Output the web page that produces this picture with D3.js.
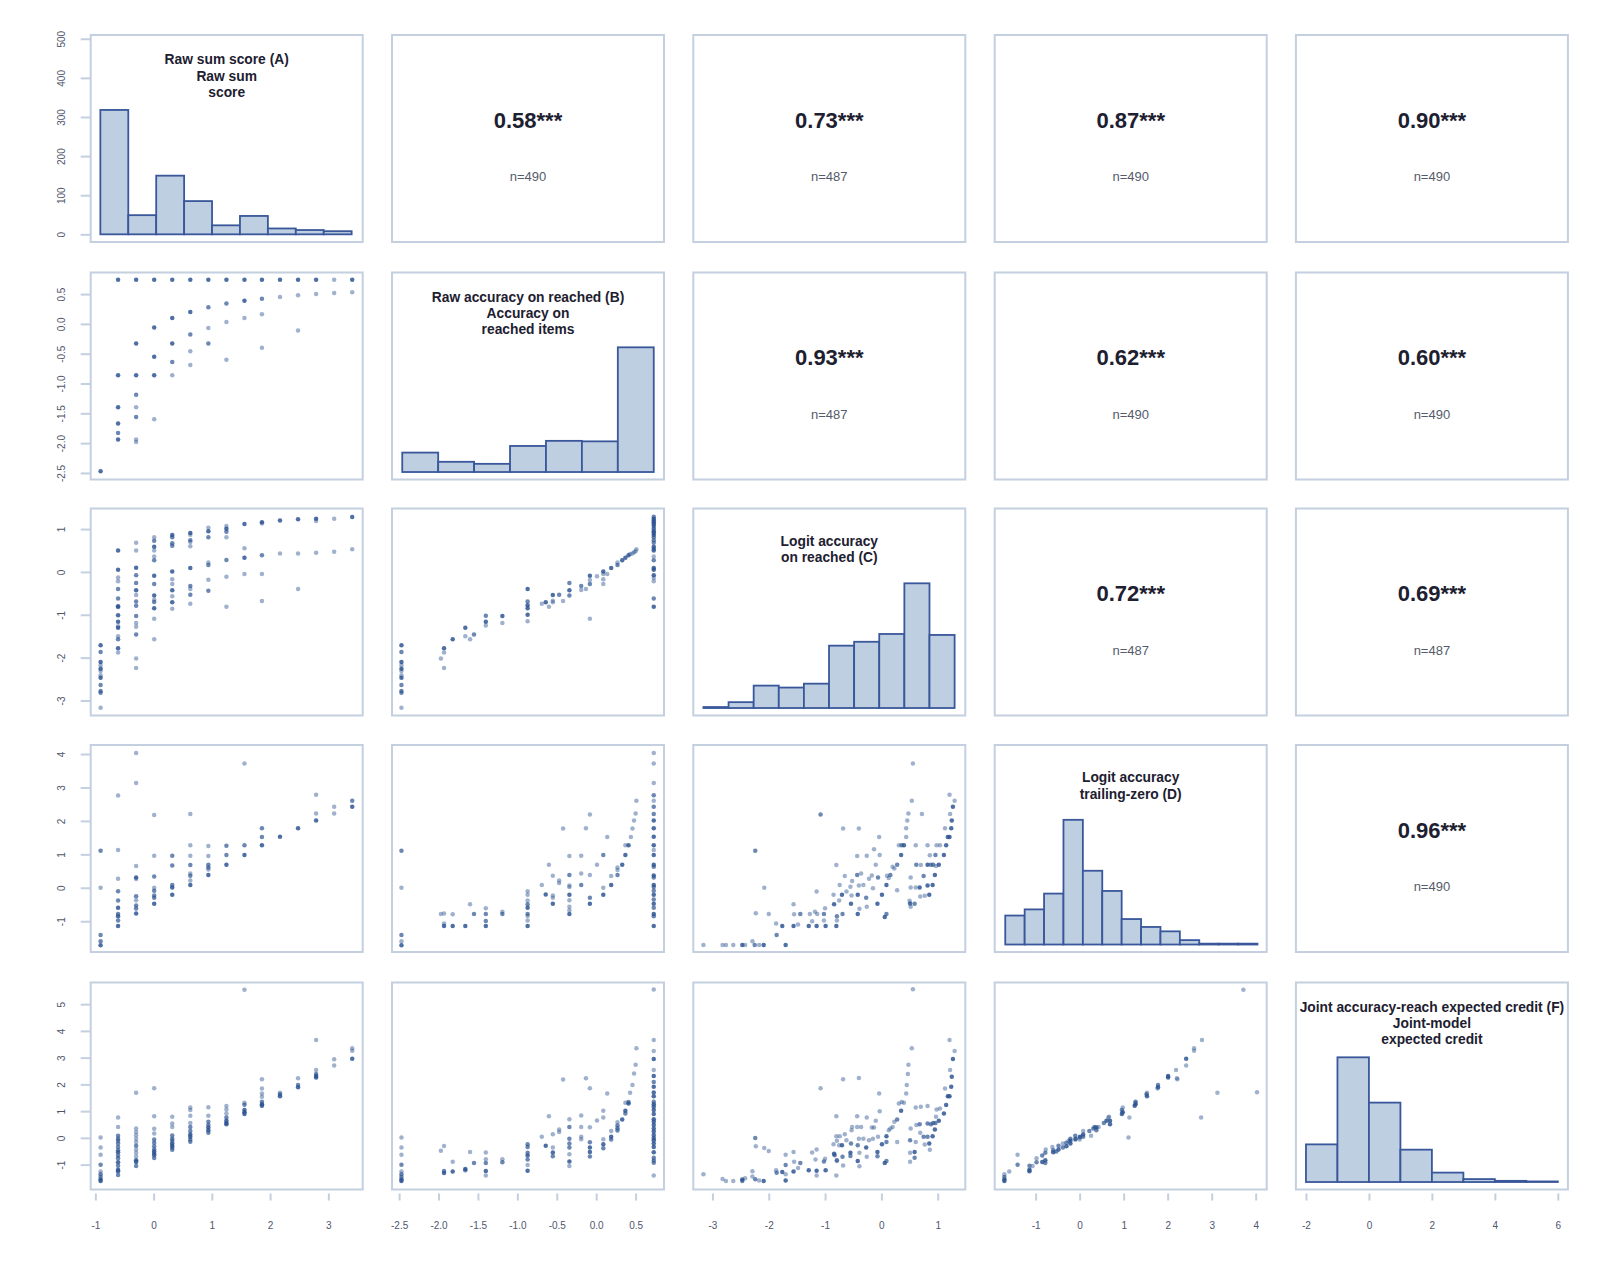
<!DOCTYPE html>
<html>
<head>
<meta charset="utf-8">
<script src="https://cdn.jsdelivr.net/npm/d3@7"></script>
<style>
  body { margin: 0; background: #fff; }
  svg text { font-family: "Liberation Sans", Arial, Helvetica, sans-serif; }
</style>
</head>
<body>
<div id="chart"></div>
<script>
// ---- data ----
const diagTitles = [
  ["Raw sum score (A)", "Raw sum", "score"],
  ["Raw accuracy on reached (B)", "Accuracy on", "reached items"],
  ["Logit accuracy", "on reached (C)"],
  ["Logit accuracy", "trailing-zero (D)"],
  ["Joint accuracy-reach expected credit (F)", "Joint-model", "expected credit"]
];

// upper cells: row, col, correlation label, n
const corrCells = [
  [0, 1, "0.58***", 490], [0, 2, "0.73***", 487], [0, 3, "0.87***", 490], [0, 4, "0.90***", 490],
  [1, 2, "0.93***", 487], [1, 3, "0.62***", 490], [1, 4, "0.60***", 490],
  [2, 3, "0.72***", 487], [2, 4, "0.69***", 487],
  [3, 4, "0.96***", 490]
];

const xDomains = [[-1.08, 3.59], [-2.59, 0.86], [-3.34, 1.49], [-1.93, 4.25], [-2.32, 6.32]];
const yDomains = [[-19.6, 509.6], [-2.61, 0.862], [-3.35, 1.48], [-1.92, 4.27], [-1.93, 5.81]];
const xTicks = [[-1, 0, 1, 2, 3], [-2.5, -2, -1.5, -1, -0.5, 0, 0.5], [-3, -2, -1, 0, 1], [-1, 0, 1, 2, 3, 4], [-2, 0, 2, 4, 6]];
const yTicks = [[0, 100, 200, 300, 400, 500], [-2.5, -2, -1.5, -1, -0.5, 0, 0.5], [-3, -2, -1, 0, 1], [-1, 0, 1, 2, 3, 4], [-1, 0, 1, 2, 3, 4, 5]];

// histograms on the diagonal: value range and bin counts
const histRanges = [[-0.914, 3.40], [-2.46, 0.73], [-3.16, 1.30], [-1.69, 4.04], [-2, 6]];
const histCounts = [
  [318, 49, 150, 85, 23, 47, 15, 11, 8],
  [38, 20, 16, 51, 61, 60, 244],
  [1, 6, 23, 21, 25, 64, 68, 76, 128, 75],
  [33, 40, 58, 142, 84, 61, 29, 20, 15, 5, 1, 1, 1],
  [64, 212, 135, 55, 16, 5, 2, 1]
];

// standardized raw sum score levels (A)
const scoreLevels = [-0.91, -0.61, -0.30, 0.01, 0.32, 0.63, 0.94, 1.25, 1.56, 1.86, 2.17, 2.48, 2.79, 3.10, 3.41];

// scatter points: [x, y, overlapping count]; column A uses the score level index
const bOnScore = [
  [0,-2.47,3],
  [1,0.74,3],[1,-0.86,3],[1,-1.40,3],[1,-1.67,3],[1,-1.83,2],[1,-1.94,3],
  [2,0.74,3],[2,-0.33,3],[2,-0.86,3],[2,-1.19,2],[2,-1.40,1],[2,-1.56,2],[2,-1.94,1],[2,-1.98,1],
  [3,0.74,3],[3,-0.06,3],[3,-0.55,3],[3,-0.86,3],[3,-1.60,1],
  [4,0.74,3],[4,0.10,3],[4,-0.33,3],[4,-0.64,2],[4,-0.86,1],
  [5,0.74,3],[5,0.20,3],[5,-0.18,2],[5,-0.46,1],[5,-0.69,1],
  [6,0.74,3],[6,0.28,2],[6,-0.07,1],[6,-0.33,2],
  [7,0.74,3],[7,0.34,2],[7,0.03,1],[7,-0.60,1],
  [8,0.74,3],[8,0.39,3],[8,0.10,1],
  [9,0.74,3],[9,0.42,2],[9,0.16,1],[9,-0.40,1],
  [10,0.74,3],[10,0.45,1],
  [11,0.74,3],[11,0.48,1],[11,-0.11,1],
  [12,0.74,3],[12,0.50,1],
  [13,0.74,1],[13,0.52,1],
  [14,0.74,3],[14,0.53,1]
];

const cOnScore = [
  [0,-1.71,3],[0,-1.87,2],[0,-2.10,3],[0,-2.18,1],[0,-2.26,3],[0,-2.31,1],[0,-2.41,1],[0,-2.47,3],[0,-2.64,2],[0,-2.78,2],[0,-2.82,2],[0,-3.17,1],
  [1,0.50,3],[1,0.05,3],[1,-0.13,1],[1,-0.22,1],[1,-0.40,2],[1,-0.62,2],[1,-0.80,3],[1,-0.82,2],[1,-1.01,3],[1,-1.16,3],[1,-1.27,1],[1,-1.30,3],[1,-1.50,1],[1,-1.57,2],[1,-1.78,3],[1,-1.88,1],
  [2,0.68,1],[2,0.50,1],[2,0.10,3],[2,-0.08,2],[2,-0.26,2],[2,-0.43,3],[2,-0.54,1],[2,-0.69,2],[2,-0.79,2],[2,-1.03,2],[2,-1.19,1],[2,-1.28,1],[2,-1.46,2],[2,-2.02,1],[2,-2.24,1],
  [3,0.81,1],[3,0.73,2],[3,0.59,3],[3,0.50,1],[3,0.36,1],[3,0.27,2],[3,-0.09,3],[3,-0.28,2],[3,-0.55,3],[3,-0.65,1],[3,-0.70,2],[3,-0.85,3],[3,-1.09,1],[3,-1.57,1],
  [4,0.86,3],[4,0.81,2],[4,0.67,2],[4,0.61,2],[4,0.01,3],[4,-0.17,1],[4,-0.28,1],[4,-0.43,3],[4,-0.57,1],[4,-0.71,3],[4,-0.86,1],
  [5,0.91,3],[5,0.87,1],[5,0.74,2],[5,0.70,1],[5,0.60,1],[5,0.09,3],[5,-0.33,2],[5,-0.40,1],[5,-0.53,2],[5,-0.74,1],
  [6,1.03,1],[6,0.95,3],[6,0.81,2],[6,0.22,1],[6,0.16,2],[6,-0.18,1],[6,-0.44,2],
  [7,1.07,1],[7,1.01,3],[7,0.94,2],[7,0.81,1],[7,0.28,2],[7,-0.11,1],[7,-0.81,1],
  [8,1.12,3],[8,0.55,1],[8,0.33,3],[8,-0.05,1],
  [9,1.16,3],[9,1.13,1],[9,0.39,2],[9,-0.05,1],[9,-0.68,1],
  [10,1.20,3],[10,0.43,1],
  [11,1.23,3],[11,0.43,1],[11,-0.40,1],
  [12,1.24,3],[12,1.19,1],[12,0.45,1],
  [13,1.24,1],[13,0.47,1],
  [14,1.28,3],[14,0.53,1]
];

const dOnScore = [
  [0,1.11,2],[0,0.0,1],[0,-1.41,2],[0,-1.60,2],[0,-1.72,3],
  [1,2.76,1],[1,1.13,1],[1,0.27,1],[1,-0.10,2],[1,-0.38,2],[1,-0.60,3],[1,-0.78,2],[1,-0.85,3],[1,-0.98,2],[1,-1.14,3],
  [2,4.03,1],[2,3.13,1],[2,0.65,1],[2,0.31,3],[2,0.26,1],[2,-0.25,2],[2,-0.37,1],[2,-0.53,2],[2,-0.62,2],[2,-0.77,3],
  [3,2.18,1],[3,0.96,1],[3,0.34,2],[3,0.0,1],[3,-0.09,2],[3,-0.23,2],[3,-0.30,2],[3,-0.48,3],
  [4,0.96,2],[4,0.67,2],[4,0.08,2],[4,0.01,3],[4,-0.21,3],
  [5,2.21,1],[5,1.27,1],[5,0.96,1],[5,0.68,2],[5,0.43,1],[5,0.36,2],[5,0.22,1],[5,0.08,3],
  [6,1.25,1],[6,0.95,1],[6,0.69,2],[6,0.61,2],[6,0.55,1],[6,0.38,3],
  [7,1.26,2],[7,0.98,2],[7,0.69,3],
  [8,3.72,1],[8,1.27,2],[8,0.98,3],
  [9,1.78,2],[9,1.52,2],[9,1.27,3],
  [10,1.53,3],[11,1.78,3],
  [12,2.78,1],[12,2.22,1],[12,2.01,3],
  [13,2.42,1],[13,2.22,1],
  [14,2.60,2],[14,2.42,3]
];

const fOnScore = [
  [0,0.01,1],[0,-0.36,1],[0,-0.63,1],[0,-1.0,2],[0,-1.26,1],[0,-1.36,2],[0,-1.46,2],[0,-1.56,3],[0,-1.61,3],
  [1,0.76,1],[1,0.41,1],[1,0.08,2],[1,-0.03,2],[1,-0.11,2],[1,-0.21,2],[1,-0.34,2],[1,-0.46,2],[1,-0.54,3],[1,-0.66,2],[1,-0.76,2],[1,-0.91,3],[1,-1.04,2],[1,-1.19,3],[1,-1.25,3],[1,-1.39,2],
  [2,1.69,1],[2,0.35,1],[2,0.22,1],[2,0.10,1],[2,-0.03,1],[2,-0.15,1],[2,-0.29,2],[2,-0.43,1],[2,-0.56,1],[2,-0.70,1],[2,-0.84,3],[2,-0.90,3],[2,-1.05,2],
  [3,1.86,1],[3,0.81,1],[3,0.34,1],[3,0.16,1],[3,-0.06,2],[3,-0.18,2],[3,-0.31,2],[3,-0.43,2],[3,-0.51,3],[3,-0.59,3],[3,-0.65,2],[3,-0.75,2],
  [4,0.79,1],[4,0.54,1],[4,0.41,1],[4,0.09,2],[4,-0.03,2],[4,-0.11,2],[4,-0.21,3],[4,-0.29,3],[4,-0.36,2],[4,-0.44,2],
  [5,1.14,1],[5,1.04,1],[5,0.83,1],[5,0.56,1],[5,0.41,2],[5,0.26,2],[5,0.13,3],[5,0.04,3],[5,-0.06,2],[5,-0.14,2],
  [6,1.15,1],[6,0.83,1],[6,0.60,2],[6,0.48,2],[6,0.39,3],[6,0.29,3],[6,0.19,2],
  [7,1.19,1],[7,1.06,1],[7,0.91,1],[7,0.76,2],[7,0.64,3],[7,0.56,3],[7,0.51,3],
  [8,5.54,1],[8,1.31,1],[8,1.24,2],[8,1.04,3],[8,0.96,3],[8,0.89,3],
  [9,2.19,1],[9,1.85,1],[9,1.66,1],[9,1.54,1],[9,1.35,2],[9,1.26,3],[9,1.20,3],
  [10,1.69,1],[10,1.63,2],[10,1.56,3],
  [11,2.23,1],[11,1.98,2],[11,1.89,3],
  [12,3.66,1],[12,2.54,1],[12,2.39,2],[12,2.31,3],[12,2.26,3],
  [13,2.94,1],[13,2.71,1],
  [14,3.35,1],[14,3.26,1],[14,2.96,3]
];

const cOnAcc = [
  [-2.47,-1.71,3],[-2.47,-1.87,2],[-2.47,-2.10,3],[-2.47,-2.18,1],[-2.47,-2.26,3],[-2.47,-2.31,1],[-2.47,-2.41,1],[-2.47,-2.47,3],[-2.47,-2.64,2],[-2.47,-2.78,2],[-2.47,-2.82,2],[-2.47,-3.17,1],
  [-1.97,-2.02,1],[-1.93,-1.78,3],[-1.93,-1.88,1],[-1.93,-2.24,1],[-1.82,-1.57,3],[-1.66,-1.30,3],[-1.66,-1.50,1],[-1.60,-1.57,1],[-1.55,-1.46,2],
  [-1.40,-1.02,2],[-1.40,-1.16,3],[-1.40,-1.25,1],[-1.19,-1.03,3],[-1.19,-1.19,1],
  [-0.87,-0.40,3],[-0.87,-0.69,2],[-0.87,-0.78,3],[-0.87,-0.85,3],[-0.87,-1.00,3],[-0.87,-1.15,1],
  [-0.69,-0.74,1],[-0.64,-0.71,3],[-0.60,-0.81,1],[-0.55,-0.54,3],[-0.55,-0.67,1],[-0.55,-0.71,1],[-0.47,-0.53,2],[-0.42,-0.68,1],
  [-0.34,-0.26,2],[-0.34,-0.43,3],[-0.34,-0.55,2],[-0.19,-0.33,2],[-0.19,-0.42,1],[-0.13,-0.40,1],
  [-0.08,-0.09,3],[-0.08,-0.19,1],[-0.08,-0.28,2],[-0.08,-1.09,1],[0.01,-0.10,1],
  [0.09,0.01,3],[0.09,-0.05,1],[0.09,-0.17,1],[0.09,-0.28,1],[0.14,-0.05,1],[0.19,0.09,3],[0.27,0.16,2],[0.27,0.22,1],[0.33,0.27,3],[0.37,0.33,3],[0.41,0.39,3],[0.43,0.42,1],[0.46,0.43,1],[0.48,0.46,1],[0.50,0.48,1],[0.51,0.53,1],
  [0.73,1.29,2],[0.73,1.24,3],[0.73,1.20,3],[0.73,1.16,3],[0.73,1.12,3],[0.73,1.07,3],[0.73,1.01,3],[0.73,0.95,3],[0.73,0.91,3],[0.73,0.86,3],[0.73,0.81,2],[0.73,0.74,2],[0.73,0.68,2],[0.73,0.59,3],[0.73,0.54,2],[0.73,0.50,3],[0.73,0.36,1],[0.73,0.27,2],[0.73,0.09,3],[0.73,0.05,3],[0.73,-0.08,3],[0.73,-0.14,1],[0.73,-0.22,1],[0.73,-0.62,2],[0.73,-0.81,3]
];

const dOnAcc = [
  [-2.47,1.11,2],[-2.47,0.0,1],[-2.47,-1.41,2],[-2.47,-1.60,1],[-2.47,-1.72,3],
  [-1.97,-0.78,1],[-1.93,-0.77,1],[-1.93,-1.07,1],[-1.93,-1.14,3],[-1.82,-0.79,1],[-1.82,-1.14,3],[-1.66,-1.14,3],[-1.60,-0.49,1],[-1.55,-0.78,2],
  [-1.40,-0.61,1],[-1.40,-0.78,2],[-1.40,-0.99,2],[-1.40,-1.14,3],[-1.19,-0.72,1],[-1.19,-0.78,2],
  [-0.87,-0.10,1],[-0.87,-0.21,1],[-0.87,-0.38,1],[-0.87,-0.49,2],[-0.87,-0.60,3],[-0.87,-0.78,2],[-0.87,-0.84,1],[-0.87,-0.98,1],[-0.87,-1.14,3],
  [-0.69,0.08,1],[-0.64,-0.20,3],[-0.60,0.69,1],[-0.55,0.36,1],[-0.55,-0.23,1],[-0.55,-0.30,1],[-0.55,-0.48,3],[-0.47,0.22,1],[-0.47,0.14,1],[-0.42,1.77,1],
  [-0.34,0.95,1],[-0.34,0.38,2],[-0.34,0.07,1],[-0.34,0.02,1],[-0.34,-0.21,3],[-0.34,-0.37,1],[-0.34,-0.57,1],[-0.34,-0.67,1],[-0.34,-0.78,3],
  [-0.19,0.96,1],[-0.19,0.43,1],[-0.19,0.08,2],[-0.13,1.78,1],
  [-0.08,2.19,1],[-0.08,0.38,1],[-0.08,-0.30,2],[-0.08,-0.48,3],[0.01,0.69,1],
  [0.09,0.98,2],[0.09,0.0,1],[0.09,-0.21,3],[0.14,1.52,1],[0.19,0.35,1],[0.19,0.08,3],
  [0.27,0.61,1],[0.27,0.53,1],[0.27,0.38,2],[0.33,0.69,3],[0.37,0.98,3],[0.37,1.27,1],[0.41,1.27,3],[0.44,1.52,1],[0.46,1.77,1],[0.48,2.01,1],[0.50,2.22,1],[0.51,2.60,1],
  [0.73,4.03,1],[0.73,3.72,1],[0.73,3.13,1],[0.73,2.77,2],[0.73,2.60,1],[0.73,2.42,2],[0.73,2.21,2],[0.73,2.01,3],[0.73,1.78,3],[0.73,1.53,3],[0.73,1.27,3],[0.73,1.13,1],[0.73,0.98,3],[0.73,0.69,3],[0.73,0.63,2],[0.73,0.37,3],[0.73,0.31,2],[0.73,0.08,3],[0.73,0.02,2],[0.73,-0.09,2],[0.73,-0.21,3],[0.73,-0.35,2],[0.73,-0.48,3],[0.73,-0.60,2],[0.73,-0.78,3],[0.73,-0.85,2],[0.73,-1.14,3]
];

const fOnAcc = [
  [-2.47,0.01,1],[-2.47,-0.36,1],[-2.47,-0.63,1],[-2.47,-1.0,2],[-2.47,-1.26,1],[-2.47,-1.36,2],[-2.47,-1.46,2],[-2.47,-1.56,3],[-2.47,-1.61,3],
  [-1.97,-0.48,1],[-1.93,-0.30,1],[-1.93,-1.24,2],[-1.93,-1.31,3],[-1.82,-0.89,1],[-1.82,-1.26,3],[-1.66,-1.16,3],[-1.66,-1.21,2],[-1.60,-0.53,1],[-1.55,-0.94,2],
  [-1.40,-0.55,1],[-1.40,-0.80,1],[-1.40,-0.94,2],[-1.40,-1.24,3],[-1.40,-1.41,1],[-1.19,-0.80,1],[-1.19,-0.91,2],
  [-0.87,-0.24,2],[-0.87,-0.34,2],[-0.87,-0.56,2],[-0.87,-0.66,3],[-0.87,-0.81,2],[-0.87,-1.01,1],[-0.87,-1.23,3],
  [-0.69,0.04,1],[-0.64,-0.29,3],[-0.60,0.81,1],[-0.55,0.14,1],[-0.55,-0.36,1],[-0.55,-0.55,3],[-0.55,-0.69,2],[-0.47,0.31,1],[-0.47,0.22,1],[-0.42,2.18,1],
  [-0.34,0.70,1],[-0.34,0.41,2],[-0.34,-0.03,2],[-0.34,-0.21,2],[-0.34,-0.36,2],[-0.34,-0.61,1],[-0.34,-0.88,3],[-0.34,-1.05,1],
  [-0.19,0.84,1],[-0.19,0.41,1],[-0.19,0.04,1],[-0.19,-0.05,1],[-0.13,2.23,1],
  [-0.08,1.86,1],[-0.08,0.40,1],[-0.08,-0.16,2],[-0.08,-0.36,3],[-0.08,-0.53,3],[-0.08,-0.70,2],[0.01,0.65,1],
  [0.09,1.01,1],[0.09,0.76,1],[0.09,-0.05,1],[0.09,-0.24,3],[0.09,-0.39,2],[0.14,1.66,1],[0.19,0.26,1],[0.19,0.04,3],[0.19,-0.06,2],
  [0.27,0.58,1],[0.27,0.46,2],[0.27,0.36,2],[0.27,0.28,2],[0.33,0.69,3],[0.37,1.31,1],[0.37,1.01,3],[0.37,0.91,2],[0.41,1.34,2],[0.41,1.29,3],[0.43,1.69,1],[0.46,1.98,1],[0.48,2.41,1],[0.50,2.73,1],[0.51,3.35,1],
  [0.73,5.55,1],[0.73,3.66,1],[0.73,3.25,1],[0.73,2.95,3],[0.73,2.54,1],[0.73,2.31,3],[0.73,2.09,2],[0.73,1.91,3],[0.73,1.70,3],[0.73,1.56,3],[0.73,1.35,2],[0.73,1.26,3],[0.73,1.16,3],[0.73,1.04,3],[0.73,0.89,3],[0.73,0.70,3],[0.73,0.60,3],[0.73,0.48,3],[0.73,0.35,3],[0.73,0.24,3],[0.73,0.11,3],[0.73,0.0,3],[0.73,-0.09,3],[0.73,-0.21,3],[0.73,-0.34,3],[0.73,-0.54,3],[0.73,-0.74,2],[0.73,-0.85,2],[0.73,-0.93,2],[0.73,-1.41,1]
];

const dOnLogit = [
  [-3.16,-1.71,1],[-2.82,-1.71,1],[-2.76,-1.71,1],[-2.63,-1.71,1],[-2.47,-1.71,3],[-2.42,-1.71,1],[-2.29,-1.60,1],[-2.25,-1.71,2],[-2.17,-1.71,1],[-2.09,-1.71,3],[-1.70,-1.71,3],
  [-2.24,1.11,2],[-2.08,0.0,1],[-2.23,-0.76,1],[-2.0,-0.78,1],[-1.87,-1.07,1],[-1.86,-1.41,2],[-1.76,-1.14,3],
  [-1.56,-0.49,1],[-1.55,-0.79,1],[-1.56,-1.14,3],[-1.48,-1.10,1],[-1.44,-0.78,2],
  [-1.29,-1.14,3],[-1.27,-0.78,1],[-1.23,-1.0,1],[-1.18,-0.72,1],[-1.15,-0.11,1],[-1.14,-0.78,1],[-1.15,-1.14,3],[-1.08,2.19,2],
  [-1.02,-0.98,1],[-1.02,-0.78,2],[-1.0,-0.61,1],[-0.99,-1.14,3],
  [-0.85,-0.21,1],[-0.84,-0.49,3],[-0.80,0.68,1],[-0.79,-0.85,2],[-0.79,-0.98,1],[-0.80,-1.14,3],[-0.75,-0.38,1],[-0.74,0.08,1],
  [-0.70,-0.21,3],[-0.69,-0.78,2],[-0.68,1.77,1],[-0.65,0.35,1],[-0.62,-0.11,1],
  [-0.55,0.03,1],[-0.54,-0.48,3],[-0.53,-0.23,1],[-0.52,0.20,1],
  [-0.43,0.95,1],[-0.43,0.38,2],[-0.42,-0.21,3],[-0.42,-0.78,3],[-0.40,0.07,1],[-0.40,1.77,1],[-0.39,-0.63,1],[-0.36,0.43,1],
  [-0.32,0.08,1],[-0.27,-0.30,2],[-0.26,0.96,1],[-0.26,-0.57,1],[-0.22,0.27,1],
  [-0.17,0.37,1],[-0.15,-0.01,1],[-0.13,1.15,1],[-0.10,0.69,1],[-0.07,-0.48,3],[-0.06,0.31,2],[-0.04,1.52,1],[-0.03,0.98,1],
  [0.01,-0.21,3],[0.06,-0.87,3],[0.09,-0.78,2],[0.09,0.08,3],[0.10,0.36,1],[0.13,0.29,1],[0.16,0.38,2],[0.20,0.63,1],[0.23,0.58,1],
  [0.28,0.69,2],[0.28,-0.07,1],[0.31,1.27,1],[0.35,0.98,3],[0.36,1.27,2],[0.40,1.27,3],
  [0.44,1.52,1],[0.44,1.78,1],[0.46,2.01,1],[0.48,2.22,1],[0.50,-0.39,1],[0.51,-0.47,3],[0.52,-0.57,1],[0.52,0.31,1],[0.52,0.01,1],[0.54,2.60,1],[0.56,3.72,1],[0.59,-0.48,2],[0.61,0.01,1],[0.62,0.69,2],[0.61,1.27,1],
  [0.68,0.01,3],[0.69,-0.26,1],[0.70,0.68,1],[0.72,2.21,1],[0.75,0.35,2],[0.77,-0.24,1],[0.82,1.27,1],[0.82,0.69,3],[0.82,0.07,3],[0.85,-0.21,3],[0.86,0.97,1],[0.88,0.69,2],[0.91,0.08,3],[0.92,0.69,2],[0.95,0.38,3],[0.96,0.98,2],[0.97,0.65,1],[0.98,1.27,1],[1.02,0.69,3],[1.04,1.27,1],
  [1.11,0.98,3],[1.13,1.78,1],[1.15,1.27,3],[1.18,1.52,3],[1.21,2.78,1],[1.21,1.52,3],[1.22,2.21,1],[1.24,1.78,3],[1.25,2.01,3],[1.27,2.42,3],[1.30,2.60,1]
];

const fOnLogit = [
  [-3.16,-1.36,1],[-2.82,-1.54,1],[-2.76,-1.61,1],[-2.63,-1.61,1],[-2.47,-1.56,3],[-2.47,-1.61,2],[-2.42,-1.51,1],[-2.29,-1.25,1],[-2.29,-1.44,1],[-2.24,0.0,2],[-2.24,-1.55,2],[-2.23,-0.31,1],[-2.17,-1.59,1],[-2.09,-1.61,3],[-2.08,-0.38,1],[-2.0,-0.49,1],
  [-1.87,-1.21,1],[-1.86,-1.30,2],[-1.76,-1.28,3],[-1.70,-0.63,1],[-1.70,-1.01,2],[-1.70,-1.59,3],[-1.70,-1.36,1],
  [-1.56,-0.53,1],[-1.56,-1.26,3],[-1.55,-0.89,1],[-1.48,-1.13,1],[-1.44,-0.94,2],
  [-1.29,-1.21,3],[-1.23,-0.55,1],[-1.17,-0.81,1],[-1.15,-0.43,1],[-1.15,-1.23,3],[-1.15,-1.41,1],[-1.08,1.86,1],
  [-1.02,-0.88,2],[-1.0,-0.78,1],[-0.99,-1.21,3],
  [-0.85,-0.24,1],[-0.84,-0.59,3],[-0.83,-0.65,2],[-0.80,0.81,1],[-0.80,0.06,1],[-0.79,-0.11,1],[-0.79,-0.86,1],[-0.80,-1.41,1],[-0.79,-0.84,2],[-0.75,-0.28,1],[-0.74,0.06,1],
  [-0.70,-0.28,3],[-0.69,-0.71,2],[-0.68,2.19,1],[-0.65,0.14,1],[-0.62,-0.09,1],[-0.68,-1.03,1],
  [-0.55,-0.56,3],[-0.54,-0.21,2],[-0.53,0.29,1],[-0.52,0.41,1],[-0.55,-0.68,2],
  [-0.43,0.41,1],[-0.43,0.81,1],[-0.42,-0.28,2],[-0.42,-0.86,3],[-0.40,-0.03,1],[-0.40,2.24,1],[-0.39,-0.56,1],[-0.36,0.41,1],[-0.39,-1.06,1],
  [-0.32,-0.03,1],[-0.27,-0.36,3],[-0.26,0.76,1],[-0.26,-0.71,1],[-0.22,-0.09,1],
  [-0.17,0.39,1],[-0.15,-0.03,1],[-0.13,0.39,1],[-0.10,0.64,1],[-0.07,-0.53,3],[-0.06,0.04,1],[-0.04,1.66,1],[-0.03,1.0,1],[-0.07,-0.69,2],
  [0.01,-0.24,3],[0.06,-0.94,3],[0.09,0.06,3],[0.09,-0.86,2],[0.09,-0.15,2],[0.13,0.29,1],[0.16,0.35,1],[0.20,0.41,1],[0.23,0.60,1],
  [0.28,0.69,2],[0.28,-0.15,1],[0.31,1.29,1],[0.35,1.01,3],[0.36,1.34,1],[0.40,1.31,1],
  [0.44,1.66,1],[0.45,1.98,1],[0.47,2.39,1],[0.48,2.73,1],[0.51,-0.09,2],[0.51,-0.56,1],[0.51,-0.89,1],[0.52,0.35,1],[0.54,3.35,1],[0.56,5.56,1],[0.59,-0.53,3],[0.59,-0.74,2],[0.61,-0.15,1],[0.62,0.48,1],[0.61,1.14,1],
  [0.68,0.51,2],[0.69,0.19,1],[0.70,1.16,1],[0.75,0.04,2],[0.77,-0.25,1],[0.82,1.19,1],[0.82,0.54,2],[0.82,0.04,2],[0.85,-0.21,3],[0.86,-0.44,1],[0.88,0.51,2],[0.91,0.06,3],[0.92,0.56,2],[0.95,0.31,3],[0.96,0.56,2],[0.97,0.79,1],[0.98,1.06,1],[1.02,0.64,3],[1.04,1.10,1],
  [1.11,0.91,3],[1.13,1.85,1],[1.15,1.23,3],[1.18,1.56,3],[1.21,3.66,1],[1.21,1.56,3],[1.22,2.54,1],[1.24,1.91,3],[1.25,2.29,3],[1.27,2.95,3],[1.30,3.25,1]
];

const fOnTrail = [
  [-1.71,-1.61,3],[-1.71,-1.56,3],[-1.71,-1.46,2],[-1.71,-1.36,1],[-1.60,-1.26,1],[-1.41,-1.0,2],[-1.41,-0.63,1],
  [-1.14,-1.25,3],[-1.14,-1.19,3],[-1.14,-1.04,2],[-1.07,-1.05,1],[-0.98,-0.91,2],[-0.98,-0.76,1],[-0.85,-0.90,3],[-0.85,-0.66,2],[-0.78,-0.84,3],[-0.78,-0.56,2],[-0.78,-0.94,2],[-0.77,-0.43,1],
  [-0.60,-0.54,3],[-0.60,-0.46,2],[-0.62,-0.34,1],[-0.53,-0.51,2],[-0.48,-0.43,3],[-0.48,-0.29,2],[-0.38,-0.36,2],[-0.38,-0.21,1],[-0.30,-0.31,3],[-0.30,-0.18,2],[-0.25,-0.11,1],[-0.21,-0.21,3],[-0.21,-0.11,3],[-0.21,-0.03,2],[-0.10,0.08,2],[-0.10,-0.06,2],[-0.09,-0.03,2],
  [0.0,0.01,1],[0.0,-0.06,1],[0.01,0.04,3],[0.08,0.13,3],[0.08,0.04,2],[0.08,0.26,1],[0.22,0.26,2],[0.26,0.08,1],[0.31,0.35,2],[0.34,0.41,2],[0.38,0.39,3],[0.38,0.29,2],[0.43,0.41,1],[0.55,0.56,2],[0.61,0.64,3],[0.65,0.76,1],[0.67,0.79,1],[0.69,0.64,3],[0.69,0.51,3],
  [0.96,0.89,3],[0.96,1.04,2],[0.98,0.96,3],[0.98,1.14,1],[1.11,0.01,1],[1.13,0.76,1],[1.25,1.20,3],[1.27,1.26,3],[1.27,1.31,1],[1.27,1.35,2],[1.53,1.56,3],[1.52,1.63,2],[1.53,1.69,1],[1.78,1.89,3],[1.78,1.98,2],[1.77,1.85,1],[2.01,2.26,3],[2.01,2.31,3],[2.19,2.54,1],[2.21,2.23,1],[2.22,2.19,1],[2.42,2.96,3],[2.42,2.71,1],[2.60,3.26,1],[2.60,3.35,1],[2.76,0.76,1],[2.78,3.66,1],[3.13,1.69,1],[3.72,5.54,1],[4.03,1.71,1]
];

// ---- layout ----
const width = 1600;
const height = 1280;
const colLeft = [90.7, 392.0, 693.3, 994.7, 1295.9];
const rowTop = [35, 272.5, 508.5, 745, 982.5];
const cellW = 272;
const cellH = 207;

const frameColor = "#c4cfdf";
const pointColor = "#2b5391";
const barFill = "#bfcfe2";
const barStroke = "#39579a";
const inkDark = "#1d2030";
const labelColor = "#4f566c";

const svg = d3.select("#chart").append("svg")
  .attr("width", width)
  .attr("height", height);

const xs = xDomains.map((d, j) => d3.scaleLinear().domain(d).range([colLeft[j], colLeft[j] + cellW]));
const ys = yDomains.map((d, i) => d3.scaleLinear().domain(d).range([rowTop[i] + cellH, rowTop[i]]));

const fmt = [d => String(d), d => d.toFixed(1), d => String(d), d => String(d), d => String(d)];

// scatter panels below the diagonal
const scatterPanels = [
  { row: 1, col: 0, pts: bOnScore }, { row: 2, col: 0, pts: cOnScore },
  { row: 3, col: 0, pts: dOnScore }, { row: 4, col: 0, pts: fOnScore },
  { row: 2, col: 1, pts: cOnAcc }, { row: 3, col: 1, pts: dOnAcc }, { row: 4, col: 1, pts: fOnAcc },
  { row: 3, col: 2, pts: dOnLogit }, { row: 4, col: 2, pts: fOnLogit },
  { row: 4, col: 3, pts: fOnTrail }
];

const alpha = n => 1 - Math.pow(0.55, n);

scatterPanels.forEach(p => {
  const x = xs[p.col];
  const y = ys[p.row];
  const xv = p.col === 0 ? d => scoreLevels[d[0]] : d => d[0];
  svg.append("g")
    .selectAll("circle")
    .data(p.pts)
    .join("circle")
    .attr("cx", d => x(xv(d)))
    .attr("cy", d => y(d[1]))
    .attr("r", 2.25)
    .attr("fill", pointColor)
    .attr("fill-opacity", d => alpha(d[2]));
});

// histograms on the diagonal
histCounts.forEach((counts, i) => {
  const [lo, hi] = histRanges[i];
  const step = (hi - lo) / counts.length;
  const x = xs[i];
  const maxC = d3.max(counts);
  const y = i === 0
    ? ys[0]
    : d3.scaleLinear().domain([-0.06 * maxC, 1.6 * maxC]).range([rowTop[i] + cellH, rowTop[i]]);
  svg.append("g")
    .selectAll("rect")
    .data(counts)
    .join("rect")
    .attr("x", (d, k) => x(lo + k * step))
    .attr("width", (d, k) => x(lo + (k + 1) * step) - x(lo + k * step))
    .attr("y", d => y(d))
    .attr("height", d => y(0) - y(d))
    .attr("fill", barFill)
    .attr("stroke", barStroke)
    .attr("stroke-width", 1.8);

  const lines = diagTitles[i];
  const cx = colLeft[i] + cellW / 2;
  const cy = rowTop[i] + 41;
  svg.append("g")
    .selectAll("text")
    .data(lines)
    .join("text")
    .attr("x", cx)
    .attr("y", (d, k) => cy + (k - (lines.length - 1) / 2) * 16.3)
    .attr("text-anchor", "middle")
    .attr("dominant-baseline", "central")
    .attr("font-size", 13.8)
    .attr("font-weight", "bold")
    .attr("fill", inkDark)
    .text(d => d);
});

// correlation cells above the diagonal
corrCells.forEach(([i, j, r, n]) => {
  const cx = colLeft[j] + cellW / 2;
  svg.append("text")
    .attr("x", cx)
    .attr("y", rowTop[i] + 85)
    .attr("text-anchor", "middle")
    .attr("dominant-baseline", "central")
    .attr("font-size", 22)
    .attr("font-weight", "bold")
    .attr("fill", inkDark)
    .text(r);
  svg.append("text")
    .attr("x", cx)
    .attr("y", rowTop[i] + 141.5)
    .attr("text-anchor", "middle")
    .attr("dominant-baseline", "central")
    .attr("font-size", 13)
    .attr("fill", "#555b6b")
    .text(`n=${n}`);
});

// panel frames
for (let i = 0; i < 5; i++) {
  for (let j = 0; j < 5; j++) {
    svg.append("rect")
      .attr("x", colLeft[j])
      .attr("y", rowTop[i])
      .attr("width", cellW)
      .attr("height", cellH)
      .attr("fill", "none")
      .attr("stroke", frameColor)
      .attr("stroke-width", 2);
  }
}

// left axes (one per row)
ys.forEach((y, i) => {
  const g = svg.append("g")
    .attr("transform", `translate(${colLeft[0]},0)`)
    .call(d3.axisLeft(y).tickValues(yTicks[i]).tickSize(10).tickFormat(fmt[i]));
  g.select(".domain").remove();
  g.selectAll(".tick line").attr("stroke", frameColor).attr("stroke-width", 2);
  g.selectAll(".tick text")
    .attr("x", 0)
    .attr("dy", null)
    .attr("transform", "translate(-29,0) rotate(-90)")
    .attr("text-anchor", "middle")
    .attr("dominant-baseline", "central")
    .attr("font-size", 10)
    .attr("font-family", "Liberation Sans, Arial, sans-serif")
    .attr("fill", labelColor);
});

// bottom axes (one per column)
xs.forEach((x, j) => {
  const g = svg.append("g")
    .attr("transform", `translate(0,${rowTop[4] + cellH + 4})`)
    .call(d3.axisBottom(x).tickValues(xTicks[j]).tickSize(7).tickPadding(21).tickFormat(fmt[j]));
  g.select(".domain").remove();
  g.selectAll(".tick line").attr("stroke", frameColor).attr("stroke-width", 2);
  g.selectAll(".tick text")
    .attr("font-size", 10)
    .attr("font-family", "Liberation Sans, Arial, sans-serif")
    .attr("fill", labelColor);
});
</script>
</body>
</html>
